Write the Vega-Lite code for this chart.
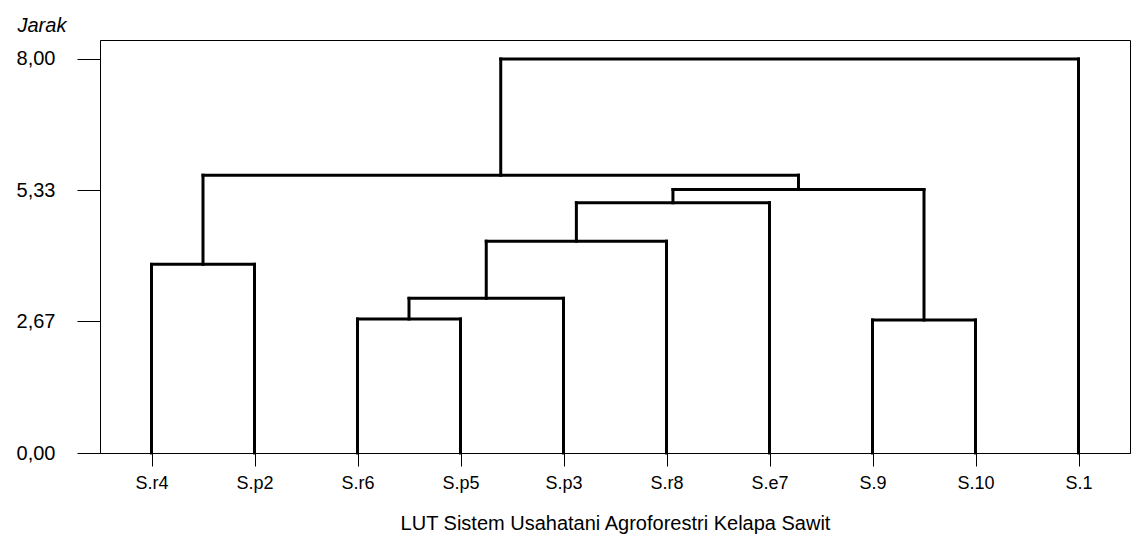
{
  "$schema": "https://vega.github.io/schema/vega-lite/v6.json",
  "autosize": {"type": "none"},
  "padding": {"left": 100, "top": 40, "right": 1, "bottom": 82},
  "width": 1030,
  "height": 413,
  "background": "white",
  "config": {
    "font": "Liberation Sans",
    "view": {"stroke": "black", "strokeWidth": 1},
    "axis": {"grid": false, "domainColor": "black", "tickColor": "black", "labelColor": "black", "titleColor": "black", "labelFont": "Liberation Sans", "titleFont": "Liberation Sans", "titleFontWeight": "normal"}
  },
  "data": {
    "values": [
      {"node": "A", "x": 1, "x2": 2, "y": 3.83, "y2": 3.83},
      {"node": "B", "x": 3, "x2": 4, "y": 2.72, "y2": 2.72},
      {"node": "C", "x": 3.5, "x2": 5, "y": 3.14, "y2": 3.14},
      {"node": "D", "x": 4.25, "x2": 6, "y": 4.30, "y2": 4.30},
      {"node": "E", "x": 5.125, "x2": 7, "y": 5.08, "y2": 5.08},
      {"node": "F", "x": 8, "x2": 9, "y": 2.70, "y2": 2.70},
      {"node": "G", "x": 6.0625, "x2": 8.5, "y": 5.35, "y2": 5.35},
      {"node": "H", "x": 1.5, "x2": 7.28125, "y": 5.64, "y2": 5.64},
      {"node": "I", "x": 4.390625, "x2": 10, "y": 8.00, "y2": 8.00},
      {"node": "S.r4", "x": 1, "x2": 1, "y": 0, "y2": 3.83},
      {"node": "S.p2", "x": 2, "x2": 2, "y": 0, "y2": 3.83},
      {"node": "S.r6", "x": 3, "x2": 3, "y": 0, "y2": 2.72},
      {"node": "S.p5", "x": 4, "x2": 4, "y": 0, "y2": 2.72},
      {"node": "S.p3", "x": 5, "x2": 5, "y": 0, "y2": 3.14},
      {"node": "S.r8", "x": 6, "x2": 6, "y": 0, "y2": 4.30},
      {"node": "S.e7", "x": 7, "x2": 7, "y": 0, "y2": 5.08},
      {"node": "S.9", "x": 8, "x2": 8, "y": 0, "y2": 2.70},
      {"node": "S.10", "x": 9, "x2": 9, "y": 0, "y2": 2.70},
      {"node": "S.1", "x": 10, "x2": 10, "y": 0, "y2": 8.00},
      {"node": "B-up", "x": 3.5, "x2": 3.5, "y": 2.72, "y2": 3.14},
      {"node": "C-up", "x": 4.25, "x2": 4.25, "y": 3.14, "y2": 4.30},
      {"node": "D-up", "x": 5.125, "x2": 5.125, "y": 4.30, "y2": 5.08},
      {"node": "E-up", "x": 6.0625, "x2": 6.0625, "y": 5.08, "y2": 5.35},
      {"node": "F-up", "x": 8.5, "x2": 8.5, "y": 2.70, "y2": 5.35},
      {"node": "A-up", "x": 1.5, "x2": 1.5, "y": 3.83, "y2": 5.64},
      {"node": "G-up", "x": 7.28125, "x2": 7.28125, "y": 5.35, "y2": 5.64},
      {"node": "H-up", "x": 4.390625, "x2": 4.390625, "y": 5.64, "y2": 8.00}
    ]
  },
  "mark": {"type": "rule", "color": "black", "strokeWidth": 3, "strokeCap": "square"},
  "encoding": {
    "x": {
      "field": "x",
      "type": "quantitative",
      "scale": {"domain": [0.5, 10.5], "nice": false, "zero": false},
      "axis": {
        "values": [1, 2, 3, 4, 5, 6, 7, 8, 9, 10],
        "labelExpr": "['', 'S.r4', 'S.p2', 'S.r6', 'S.p5', 'S.p3', 'S.r8', 'S.e7', 'S.9', 'S.10', 'S.1'][datum.value]",
        "tickSize": 13,
        "labelPadding": 8,
        "labelFontSize": 18,
        "title": "LUT Sistem Usahatani Agroforestri Kelapa Sawit",
        "titleFontSize": 20,
        "titleBaseline": "alphabetic",
        "titleY": 76,
        "titleX": 515,
        "titleAnchor": "middle",
        "titleAlign": "center"
      }
    },
    "x2": {"field": "x2"},
    "y": {
      "field": "y",
      "type": "quantitative",
      "scale": {"domain": [0, 8.385], "nice": false},
      "axis": {
        "values": [0, 2.67, 5.33, 8],
        "labelExpr": "replace(format(datum.value, '.2f'), '.', ',')",
        "tickSize": 23,
        "labelPadding": 22,
        "labelFontSize": 20,
        "title": "Jarak",
        "titleAngle": 0,
        "titleFontSize": 20,
        "titleFontStyle": "italic",
        "titleAlign": "left",
        "titleBaseline": "alphabetic",
        "titleX": -83,
        "titleY": -9
      }
    },
    "y2": {"field": "y2"}
  }
}
